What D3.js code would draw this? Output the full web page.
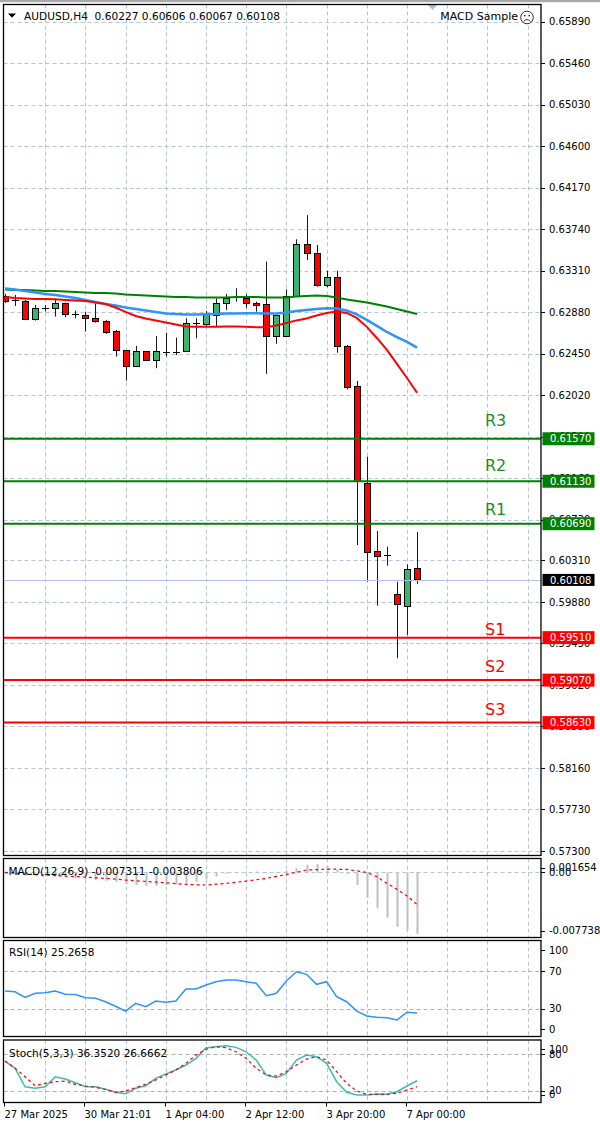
<!DOCTYPE html>
<html><head><meta charset="utf-8">
<script src="https://cdn.jsdelivr.net/npm/d3@7"></script>
<style>html,body{margin:0;padding:0;background:#fff;}svg{display:block;}</style>
</head><body><svg id="c" width="600" height="1128"></svg>
<script>
// ---------- DATA ----------
const symbolTitle = "AUDUSD,H4";
const lastOHLC = ["0.60227","0.60606","0.60067","0.60108"];
const expertName = "MACD Sample";

const opens  = [0.63049,0.63010,0.63001,0.62811,0.62924,0.62922,0.62973,0.62862,0.62853,0.62818,0.62791,0.62687,0.62490,0.62328,0.62479,0.62386,0.62471,0.62467,0.62472,0.62767,0.62760,0.62853,0.62973,0.63042,0.63031,0.62980,0.62963,0.62635,0.62635,0.63049,0.63588,0.63498,0.63164,0.63249,0.62531,0.62117,0.61115,0.60407,0.60366,0.59963,0.59842,0.60227];
const highs  = [0.63070,0.63059,0.63008,0.62956,0.62956,0.63008,0.62980,0.62897,0.62887,0.62973,0.62801,0.62697,0.62490,0.62531,0.62479,0.62634,0.62669,0.62617,0.62818,0.62818,0.62894,0.63025,0.63070,0.63129,0.63067,0.62990,0.63405,0.62853,0.63118,0.63636,0.63887,0.63577,0.63311,0.63311,0.62542,0.62168,0.61384,0.60614,0.60452,0.60090,0.60270,0.60606];
const lows   = [0.62977,0.62946,0.62801,0.62794,0.62887,0.62835,0.62829,0.62818,0.62680,0.62773,0.62656,0.62421,0.62172,0.62328,0.62376,0.62301,0.62421,0.62438,0.62472,0.62611,0.62729,0.62732,0.62904,0.62990,0.62922,0.62887,0.62242,0.62553,0.62635,0.63049,0.63422,0.63146,0.63140,0.62462,0.62083,0.60469,0.60090,0.59842,0.60255,0.59297,0.59538,0.60067];
const closes = [0.62997,0.63006,0.62811,0.62922,0.62920,0.62973,0.62863,0.62858,0.62818,0.62783,0.62680,0.62490,0.62328,0.62479,0.62386,0.62479,0.62467,0.62469,0.62767,0.62764,0.62863,0.62973,0.63025,0.63039,0.62984,0.62956,0.62635,0.62853,0.63049,0.63588,0.63491,0.63164,0.63243,0.62531,0.62109,0.61136,0.60400,0.60358,0.60363,0.59856,0.60221,0.60108];

const maGreen = [0.63116,0.63111,0.63111,0.63106,0.63101,0.63101,0.63096,0.63090,0.63085,0.63080,0.63080,0.63075,0.63065,0.63059,0.63054,0.63049,0.63044,0.63039,0.63039,0.63034,0.63034,0.63034,0.63034,0.63039,0.63039,0.63039,0.63034,0.63034,0.63034,0.63044,0.63049,0.63054,0.63049,0.63034,0.63013,0.62997,0.62982,0.62961,0.62940,0.62915,0.62889,0.62863];
const maBlue  = [0.63127,0.63116,0.63101,0.63085,0.63070,0.63059,0.63044,0.63028,0.63008,0.62987,0.62966,0.62951,0.62930,0.62915,0.62899,0.62884,0.62868,0.62863,0.62858,0.62858,0.62860,0.62863,0.62868,0.62868,0.62870,0.62870,0.62868,0.62868,0.62878,0.62894,0.62904,0.62915,0.62922,0.62920,0.62899,0.62858,0.62801,0.62739,0.62676,0.62624,0.62573,0.62514];
const maRed   = [0.63039,0.63028,0.63023,0.63018,0.63018,0.63015,0.63008,0.63003,0.62997,0.62982,0.62966,0.62930,0.62884,0.62842,0.62816,0.62796,0.62775,0.62754,0.62734,0.62729,0.62729,0.62729,0.62732,0.62732,0.62729,0.62726,0.62726,0.62744,0.62770,0.62796,0.62816,0.62847,0.62873,0.62887,0.62873,0.62822,0.62729,0.62614,0.62490,0.62345,0.62199,0.62047];

const priceTicks = ["0.65890","0.65460","0.65030","0.64600","0.64170","0.63740","0.63310","0.62880","0.62450","0.62020","0.61590","0.61160","0.60730","0.60310","0.59880","0.59450","0.59020","0.58590","0.58160","0.57730","0.57300"];

const levelNames = ["R3","R2","R1","S1","S2","S3"];
const levelValues = [0.61570,0.61130,0.60690,0.59510,0.59070,0.58630];
const levelLabelPrices = [0.61702,0.61236,0.60780,0.59537,0.59154,0.58709];
const lastPrice = 0.60108;

const macdMain = [-0.0002,-0.0003,-0.0004,-0.0004,-0.0005,-0.0005,-0.0006,-0.0007,-0.0008,-0.0009,-0.0010,-0.0011,-0.0014,-0.0015,-0.0016,-0.0016,-0.0015,-0.0014,-0.0013,-0.0011,-0.0008,-0.0005,-0.0002,0.0000,0.0001,0.0001,-0.0001,-0.0001,0.0002,0.0005,0.0009,0.0010,0.0008,0.0003,-0.0002,-0.001505,-0.003045,-0.004266,-0.005380,-0.006446,-0.006837,-0.007311];
const macdSignal = [0.0000,-0.0001,-0.0002,-0.00026,-0.00032,-0.00038,-0.00044,-0.0005,-0.00056,-0.00064,-0.00071,-0.0008,-0.00091,-0.001,-0.00107,-0.00115,-0.00123,-0.00133,-0.00142,-0.00147,-0.0015,-0.0014,-0.0013,-0.00117,-0.00103,-0.00087,-0.00071,-0.00048,-0.00024,0.00002,0.00027,0.00034,0.00039,0.00038,0.00035,0.00019,0.0,-0.00052,-0.0013,-0.00201,-0.00281,-0.003806];
const macdTitle = "MACD(12,26,9) -0.007311 -0.003806";
const macdRange = [-0.007738, 0.001654];
const macdTickLabels = ["0.001654","0.00","-0.007738"];
const macdTickValues = [0.001654, 0, -0.007738];

const rsiValues = [48.8,48.0,42.0,46.3,47.0,48.8,45.3,45.0,41.6,41.0,37.3,32.5,27.3,35.6,32.0,38.1,36.7,38.1,50.9,50.9,55.2,58.8,60.6,60.6,58.8,57.1,43.8,46.3,59.5,69.5,66.7,56.0,58.8,42.7,37.3,27.3,22.0,20.6,20.2,17.7,26.0,25.27];
const rsiTitle = "RSI(14) 25.2658";
const rsiTicks = ["100","70","30","0"];
const rsiLevels = [70,30];

const stochMain = [68.9,56.9,26.5,23.9,26.5,43.0,39.2,33.1,26.5,26.5,22.3,17.3,15.0,23.9,28.2,40.4,47.5,54.1,62.3,73.3,90.8,92.5,94.1,91.5,84.2,70.5,45.8,41.4,48.6,70.5,78.8,76.0,65.1,34.8,17.3,12.9,12.9,14.5,14.0,18.3,27.7,36.35];
const stochSignal = [68.9,57,43,28,32.1,34.8,35.9,30.5,27.7,25.5,22.3,17.3,19.4,24.9,30.5,37.6,45.8,54.1,65.1,78.8,88.2,92.5,90.8,84.2,73.3,56.9,45.8,44.2,51.3,62.3,72.2,76.0,70.5,51.3,32.1,19.4,14.0,14.0,14.0,15.7,21.1,26.67];
const stochTitle = "Stoch(5,3,3) 36.3520 26.6662";
const stochTicks = ["100","80","20","0"];
const stochLevels = [80,20];

const timeLabels = ["27 Mar 2025","30 Mar 21:01","1 Apr 04:00","2 Apr 12:00","3 Apr 20:00","7 Apr 00:00"];
const timeLabelBars = [0,8,16,24,32,40];

// ---------- LAYOUT ----------
const svg = d3.select("#c");
const FONT = "DejaVu Sans";
const L = 3.5, R = 541;
const P = {
  main: {y0: 4.5, y1: 855.5},
  macd: {y0: 858.5, y1: 937.5},
  rsi: {y0: 940.5, y1: 1036.5},
  stoch: {y0: 1040, y1: 1102.5}
};
const GRID = "#b4c4dc", LEVELGRID = "#b0b0b0";
const nBars = opens.length;
const barIdx = d3.range(nBars);
const x = d3.scaleLinear().domain([0, 53]).range([5, 5 + 10.05 * 53]);
const yP = d3.scaleLinear().domain([0.57300, 0.65890]).range([851, 21.7]);
const yM = d3.scaleLinear().domain(macdRange).range([P.macd.y1, P.macd.y0]);
const yR = d3.scaleLinear().domain([0, 100]).range([1036.5, 943.3]);
const yS = d3.scaleLinear().domain([0, 100]).range([1102.8, 1042.2]);
const gridBars = d3.range(4, 53, 4);

// top strip
svg.append("rect").attr("x",0).attr("y",0).attr("width",600).attr("height",2.2).attr("fill","#a8a8a8");

const defs = svg.append("defs");
Object.entries(P).forEach(([k,p]) => {
  defs.append("clipPath").attr("id","clip-"+k).append("rect")
    .attr("x", L+0.5).attr("y", p.y0+0.5).attr("width", R-L-1).attr("height", p.y1-p.y0-1);
});

function vGrid(p){
  svg.append("g").selectAll("line").data(gridBars).join("line")
    .attr("x1", d=>Math.round(x(d))+0.5).attr("x2", d=>Math.round(x(d))+0.5)
    .attr("y1", p.y0).attr("y2", p.y1)
    .attr("stroke", GRID).attr("stroke-width",1).attr("stroke-dasharray","4,3");
}
function hLine(y, color, dash){
  svg.append("line").attr("x1",L).attr("x2",R).attr("y1",Math.round(y)+0.5).attr("y2",Math.round(y)+0.5)
    .attr("stroke",color).attr("stroke-width",1).attr("stroke-dasharray",dash||null);
}
function rightLabel(txt, y){
  svg.append("line").attr("x1",R).attr("x2",R+4).attr("y1",Math.round(y)+0.5).attr("y2",Math.round(y)+0.5).attr("stroke","#000");
  svg.append("text").attr("x",549).attr("y",y+3.6).attr("font-family",FONT).attr("font-size",10).attr("fill","#000").text(txt);
}

// ---------- MAIN PANEL ----------
vGrid(P.main);
priceTicks.forEach(t => hLine(yP(+t), GRID, "4,3"));
priceTicks.forEach(t => rightLabel(t, yP(+t)));

// candles
const gC = svg.append("g").attr("clip-path","url(#clip-main)");
barIdx.forEach(i => {
  const cx = Math.round(x(i)) + 0.5;
  gC.append("line").attr("x1",cx).attr("x2",cx).attr("y1",yP(highs[i])).attr("y2",yP(lows[i]))
    .attr("stroke","#1a1a1a").attr("stroke-width",1);
  const yo = yP(opens[i]), yc = yP(closes[i]);
  const top = Math.min(yo,yc), h = Math.abs(yo-yc);
  if (h < 1.5) {
    gC.append("line").attr("x1",cx-3.5).attr("x2",cx+3.5).attr("y1",Math.round(top)+0.5).attr("y2",Math.round(top)+0.5)
      .attr("stroke","#000").attr("stroke-width",1);
  } else {
    gC.append("rect").attr("x",cx-3).attr("y",Math.round(top)+0.5).attr("width",6).attr("height",Math.round(h))
      .attr("fill", closes[i] >= opens[i] ? "#3cb371" : "#ff0000").attr("stroke","#000").attr("stroke-width",1);
  }
});

// moving averages
const maLine = d3.line().x((d,i)=>x(i)).y(d=>yP(d));
const gMA = svg.append("g").attr("clip-path","url(#clip-main)");
gMA.append("path").attr("d",maLine(maGreen)).attr("fill","none").attr("stroke","#008000").attr("stroke-width",2);
gMA.append("path").attr("d",maLine(maBlue)).attr("fill","none").attr("stroke","#2f93f7").attr("stroke-width",2.5);
gMA.append("path").attr("d",maLine(maRed)).attr("fill","none").attr("stroke","#ff0000").attr("stroke-width",2);

// bid line
hLine(yP(lastPrice), "#aec3df");

// support / resistance
levelNames.forEach((n,i) => {
  const col = n[0] === "R" ? "#008000" : "#ff0000";
  const y = yP(levelValues[i]);
  svg.append("line").attr("x1",L).attr("x2",R).attr("y1",y).attr("y2",y).attr("stroke",col).attr("stroke-width",2);
  svg.append("text").attr("x",485).attr("y",yP(levelLabelPrices[i])).attr("font-family",FONT).attr("font-size",16)
    .attr("fill", n[0]==="R" ? "#1e8c1e" : "#ff0000").text(n);
  svg.append("rect").attr("x",542.5).attr("y",y-6.5).attr("width",52).attr("height",13).attr("fill",col);
  svg.append("text").attr("x",550).attr("y",y+3.7).attr("font-family",FONT).attr("font-size",10).attr("fill","#fff")
    .text(d3.format(".5f")(levelValues[i]));
});
{
  const y = yP(lastPrice);
  svg.append("rect").attr("x",542.5).attr("y",y-6).attr("width",52).attr("height",12).attr("fill","#000");
  svg.append("text").attr("x",550).attr("y",y+3.7).attr("font-family",FONT).attr("font-size",10).attr("fill","#fff")
    .text(d3.format(".5f")(lastPrice));
}

// header
svg.append("path").attr("d","M8,13.5 L16,13.5 L12,17.8 Z").attr("fill","#000");
svg.append("text").attr("x",24).attr("y",19.5).attr("font-family",FONT).attr("font-size",10.6).attr("fill","#000")
  .attr("xml:space","preserve").text(symbolTitle + "  " + lastOHLC.join(" "));
svg.append("path").attr("d","M428,5 L437,5 L432.5,10 Z").attr("fill","#a9bcd9");
svg.append("text").attr("x",518).attr("y",20).attr("text-anchor","end").attr("font-family",FONT).attr("font-size",11)
  .attr("fill","#000").text(expertName);
svg.append("circle").attr("cx",527).attr("cy",17.5).attr("r",6.3).attr("fill","#fff").attr("stroke","#333").attr("stroke-width",1);
svg.append("circle").attr("cx",524.8).attr("cy",15.6).attr("r",0.9).attr("fill","#333");
svg.append("circle").attr("cx",529.2).attr("cy",15.6).attr("r",0.9).attr("fill","#333");
svg.append("path").attr("d","M523.8,21.2 Q527,17.9 530.2,21.2").attr("fill","none").attr("stroke","#333").attr("stroke-width",1);

// ---------- MACD ----------
vGrid(P.macd);
hLine(yM(0), GRID, "4,3");
const gM = svg.append("g").attr("clip-path","url(#clip-macd)");
gM.selectAll("line").data(barIdx).join("line")
  .attr("x1",i=>Math.round(x(i))+0.5).attr("x2",i=>Math.round(x(i))+0.5)
  .attr("y1",yM(0)).attr("y2",i=>yM(macdMain[i]))
  .attr("stroke","#c0c0c0").attr("stroke-width",2);
gM.append("path").attr("d", d3.line().x((d,i)=>x(i)).y(d=>yM(d))(macdSignal))
  .attr("fill","none").attr("stroke","#ff0000").attr("stroke-width",1.2).attr("stroke-dasharray","3,3");
svg.append("text").attr("x",8.5).attr("y",874.5).attr("font-family",FONT).attr("font-size",10.5).attr("fill","#000").text(macdTitle);
macdTickLabels.forEach((t,i) => {
  const y = Math.max(P.macd.y0+9, Math.min(P.macd.y1-7, yM(macdTickValues[i])));
  rightLabel(t, y);
});

// ---------- RSI ----------
vGrid(P.rsi);
rsiLevels.forEach(v => hLine(yR(v), LEVELGRID, "4,3"));
svg.append("g").attr("clip-path","url(#clip-rsi)").append("path")
  .attr("d", d3.line().x((d,i)=>x(i)).y(d=>yR(d))(rsiValues))
  .attr("fill","none").attr("stroke","#2f93f7").attr("stroke-width",1.5);
svg.append("text").attr("x",9).attr("y",956).attr("font-family",FONT).attr("font-size",10.5).attr("fill","#000").text(rsiTitle);
rsiTicks.forEach(t => {
  const y = Math.max(P.rsi.y0+9.5, Math.min(P.rsi.y1-7.5, yR(+t)));
  rightLabel(t, y);
});

// ---------- STOCH ----------
vGrid(P.stoch);
stochLevels.forEach(v => hLine(yS(v), LEVELGRID, "4,3"));
const gS = svg.append("g").attr("clip-path","url(#clip-stoch)");
gS.append("path").attr("d", d3.line().x((d,i)=>x(i)).y(d=>yS(d))(stochMain))
  .attr("fill","none").attr("stroke","#3cbcb0").attr("stroke-width",1.5);
gS.append("path").attr("d", d3.line().x((d,i)=>x(i)).y(d=>yS(d))(stochSignal))
  .attr("fill","none").attr("stroke","#ff0000").attr("stroke-width",1.2).attr("stroke-dasharray","3,3");
svg.append("text").attr("x",9).attr("y",1056.5).attr("font-family",FONT).attr("font-size",10.5).attr("fill","#000").text(stochTitle);
stochTicks.forEach(t => {
  const y = Math.max(P.stoch.y0+9, Math.min(P.stoch.y1-8, yS(+t)));
  rightLabel(t, y);
});

// ---------- FRAMES ----------
Object.values(P).forEach(p => {
  svg.append("rect").attr("x",L).attr("y",p.y0).attr("width",R-L).attr("height",p.y1-p.y0)
    .attr("fill","none").attr("stroke","#000").attr("stroke-width",1.3);
});

// ---------- TIME AXIS ----------
timeLabels.forEach((t,k) => {
  const tx = Math.round(x(timeLabelBars[k])) - 0.5;
  svg.append("line").attr("x1",tx).attr("x2",tx).attr("y1",P.stoch.y1).attr("y2",P.stoch.y1+4).attr("stroke","#000");
  svg.append("text").attr("x",tx).attr("y",1117.5).attr("font-family",FONT).attr("font-size",10).attr("fill","#000").text(t);
});
</script></body></html>
